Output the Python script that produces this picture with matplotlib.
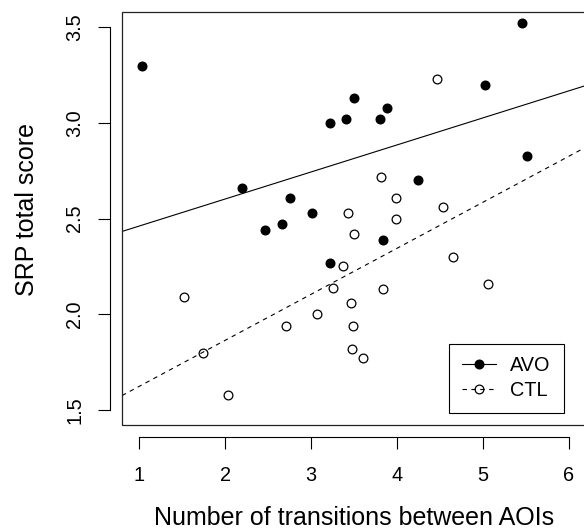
import numpy as np
import matplotlib
matplotlib.use("Agg")
import matplotlib.pyplot as plt
from matplotlib.lines import Line2D
from matplotlib.patches import Rectangle

plt.rcParams['font.family'] = ['Liberation Sans', 'DejaVu Sans']

# AVO group (filled)
avo_x = [1.03, 2.20, 2.46, 2.66, 2.75, 3.01, 3.22, 3.22, 3.41, 3.50, 3.80, 3.84, 3.88, 4.25, 5.02, 5.46, 5.51]
avo_y = [3.30, 2.66, 2.44, 2.47, 2.61, 2.53, 3.00, 2.27, 3.02, 3.13, 3.02, 2.39, 3.08, 2.70, 3.20, 3.52, 2.83]
# CTL group (open)
ctl_x = [1.52, 1.74, 2.03, 2.71, 3.07, 3.25, 3.37, 3.43, 3.46, 3.48, 3.49, 3.50, 3.60, 3.81, 3.84, 3.99, 3.99, 4.47, 4.53, 4.65, 5.06]
ctl_y = [2.09, 1.80, 1.58, 1.94, 2.00, 2.14, 2.25, 2.53, 2.06, 1.82, 1.94, 2.42, 1.77, 2.72, 2.13, 2.61, 2.50, 3.23, 2.56, 2.30, 2.16]

# fitted lines (intercept, slope)
avo_fit = [2.320, 0.1413]
ctl_fit = [1.383, 0.2405]

groups = ["AVO", "CTL"]
x_ticks = [1, 2, 3, 4, 5, 6]
y_ticks = [1.5, 2.0, 2.5, 3.0, 3.5]
xlabel = "Number of transitions between AOIs"
ylabel = "SRP total score"

W, H = 584, 529
fig = plt.figure(figsize=(W / 100, H / 100), dpi=100)
left, right, top, bottom = 122, 586, 12, 425.3
ax = fig.add_axes([left / W, 1 - bottom / H, (right - left) / W, (bottom - top) / H])
ax.set_xlim(0.8, 6.2)
ax.set_ylim(1.42, 3.58)

fs = 14.3
ax.plot(avo_x, avo_y, 'o', color='black', ms=6.2, zorder=3)
ax.plot(ctl_x, ctl_y, 'o', mfc='none', mec='black', mew=0.9, ms=6.3, zorder=3)

ax.axline((0, avo_fit[0]), slope=avo_fit[1], color='black', lw=0.8)
ax.axline((0, ctl_fit[0]), slope=ctl_fit[1], color='black', lw=0.8, dashes=(4, 4))

# box
ax.add_patch(Rectangle((0, 0), 1, 1, transform=ax.transAxes, fill=False,
                       lw=0.9, edgecolor='#222222', clip_on=False, zorder=4))
for s in ['top', 'right']:
    ax.spines[s].set_visible(False)
for s in ['left', 'bottom']:
    ax.spines[s].set_position(('outward', 8.64))
    ax.spines[s].set_linewidth(0.8)
ax.spines['bottom'].set_bounds(1, 6)
ax.spines['left'].set_bounds(1.5, 3.5)
ax.set_xticks(x_ticks)
ax.set_xticklabels([str(t) for t in x_ticks])
ax.set_yticks(y_ticks)
ax.set_yticklabels([f"{t:.1f}" for t in y_ticks], rotation=90, va='center')
ax.tick_params(axis='both', direction='out', length=8.64, width=0.8, labelsize=fs)
ax.tick_params(axis='x', pad=12.3)
ax.tick_params(axis='y', pad=10)

ax.set_xlabel(xlabel, fontsize=18)
ax.xaxis.set_label_coords(0.5, -0.196)
ax.set_ylabel(ylabel, fontsize=18)
ax.yaxis.set_label_coords(-0.179, 0.523)

handles = [
    Line2D([], [], color='black', lw=0.8, marker='o', ms=6.2),
    Line2D([], [], color='black', lw=0.8, dashes=(4, 4), marker='o', mfc='none', mec='black', ms=6.3, mew=0.9),
]
leg = ax.legend(handles, groups, loc='lower right', bbox_to_anchor=(0.952, 0.029),
                borderaxespad=0, fontsize=fs, frameon=True, fancybox=False, edgecolor='black',
                framealpha=1, numpoints=1, handlelength=1.7,
                borderpad=0.65, labelspacing=0.3, handletextpad=0.75)
leg.get_frame().set_linewidth(0.8)

fig.savefig("out.png", dpi=100)
